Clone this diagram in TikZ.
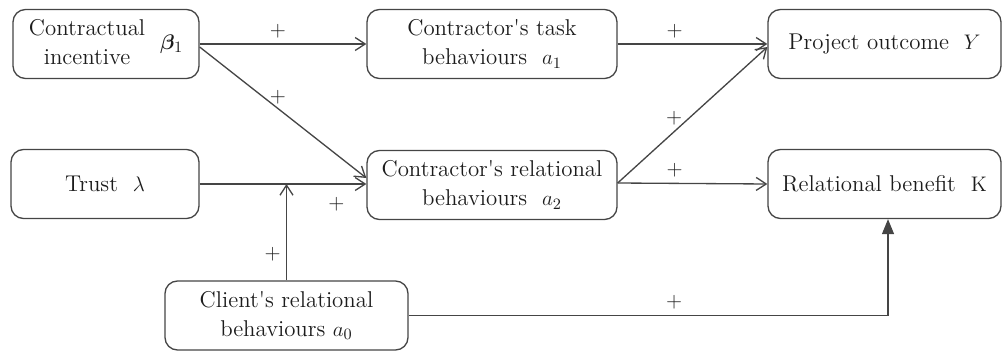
\documentclass[tikz,border=0pt]{standalone}
\usepackage{bm}
\usepackage{tikz}
\usetikzlibrary{arrows.meta, calc}
\definecolor{linegray}{HTML}{454545}
\definecolor{textgray}{HTML}{1c1c1c}

\begin{document}
\begin{tikzpicture}[
	block/.style={draw=linegray, line width=0.75pt, rounded corners=0.25cm, minimum height=1.38cm, align=center, text=textgray, font=\fontsize{13}{16.5}\selectfont, inner sep=2pt},
	link/.style={draw=linegray, line width=0.75pt, -{Straight Barb[length=2mm, width=2.6mm]}},
	plus/.style={text=textgray, font=\fontsize{12}{14}\selectfont, inner sep=3pt}
]

	\useasboundingbox (0,0) rectangle (20.04,7.04);

	\coordinate (I) at (2.12,6.16);
	\coordinate (T) at (9.84,6.16);
	\coordinate (O) at (17.69,6.16);
	\coordinate (L) at (2.10,3.36);
	\coordinate (R) at (9.84,3.34);
	\coordinate (K) at (17.69,3.36);
	\coordinate (C) at (5.73,0.73);

	% boxes
	\node[block, minimum width=3.72cm] (inc) at (I) {\begin{tabular}{@{}c@{}}Contractual\\incentive\end{tabular}\hspace{0.3cm}$\bm{\beta}_1$};
	\node[block, minimum width=5cm] (task) at (T) {Contractor\textquotesingle s task\\behaviours \ $a_1$};
	\node[block, minimum width=4.66cm] (out) at (O) {Project outcome \ $Y$};
	\node[block, minimum width=3.76cm] (trust) at (L) {Trust \ $\lambda$};
	\node[block, minimum width=5cm] (rel) at (R) {Contractor\textquotesingle s relational\\behaviours \ $a_2$};
	\node[block, minimum width=4.66cm] (ben) at (K) {Relational benefit \ $\mathrm{K}$};
	\node[block, minimum width=4.86cm] (cli) at (C) {Client\textquotesingle s relational\\behaviours $a_0$};

	\coordinate (join) at (cli.north |- trust.east);

	% arrows
	\draw[link] (inc.east) -- node[plus, pos=0.47, above] {+} (task.west);
	\draw[link] ($(inc.east)+(0,-0.06)$) -- node[plus, pos=0.47, yshift=0.23cm] {+} ($(rel.west)+(0,0.14)$);
	\draw[link] (task.east) -- node[plus, pos=0.38, above] {+} (out.west);
	\draw[link] ($(rel.east)+(0,0.04)$) -- node[plus, pos=0.377, yshift=0.27cm] {+} ($(out.west)+(0,-0.06)$);
	\draw[link] ($(rel.east)+(0,0.04)$) -- node[plus, pos=0.38, above] {+} (ben.west);
	\draw[link] (trust.east) -- node[plus, pos=0.82, below=4pt] {+} ($(rel.west)+(0,0.02)$);
	\draw[link] (cli.north) -- node[plus, pos=0.27, left] {+} (join);
	\draw[draw=linegray, line width=0.75pt, -{Triangle[length=3mm, width=2.4mm]}] (cli.east) -- node[plus, pos=0.554, above] {+} ($(cli.east -| ben.south)+(0.07,0)$) -- ($(ben.south)+(0.07,0)$);

\end{tikzpicture}
\end{document}
